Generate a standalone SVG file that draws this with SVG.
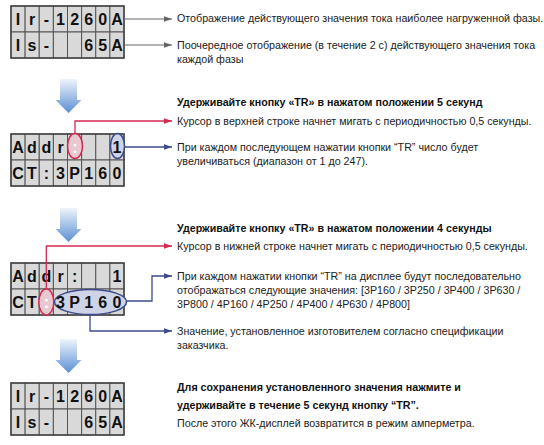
<svg xmlns="http://www.w3.org/2000/svg" width="544" height="445" viewBox="0 0 544 445">
<defs>
<style>
.t{font-family:"Liberation Sans",Arial,sans-serif;font-size:10.7px;fill:#222}
.b{font-family:"Liberation Sans",Arial,sans-serif;font-size:10.7px;font-weight:bold;fill:#111}
.lcd{font-family:"Liberation Sans",Arial,sans-serif;font-size:16px;font-weight:bold;fill:#111;text-anchor:middle}
.cell{fill:#d9d9d9;stroke:#555;stroke-width:1}
.frame{fill:none;stroke:#444;stroke-width:1.5}
.gl{fill:none;stroke:#666;stroke-width:1.2}
.rl{fill:none;stroke:#d42a52;stroke-width:1.3}
.bl{fill:none;stroke:#3d4a8c;stroke-width:1.3}
.re{fill:#e8c9d2;stroke:#d42a52;stroke-width:1.5}
.be{fill:#cfd3e6;stroke:#3d4a8c;stroke-width:1.5}
</style>
<marker id="ag" viewBox="0 0 10 10" refX="10" refY="5" markerWidth="8" markerHeight="8" markerUnits="userSpaceOnUse" orient="auto"><path d="M0,1.5 L10,5 L0,8.5 Z" fill="#666"/></marker>
<marker id="ar" viewBox="0 0 10 10" refX="10" refY="5" markerWidth="8" markerHeight="8" markerUnits="userSpaceOnUse" orient="auto"><path d="M0,1.5 L10,5 L0,8.5 Z" fill="#d42a52"/></marker>
<marker id="ab" viewBox="0 0 10 10" refX="10" refY="5" markerWidth="8" markerHeight="8" markerUnits="userSpaceOnUse" orient="auto"><path d="M0,1.5 L10,5 L0,8.5 Z" fill="#3d4a8c"/></marker>
<linearGradient id="dg" x1="0" y1="0" x2="0" y2="1">
<stop offset="0" stop-color="#eef4fb"/>
<stop offset="1" stop-color="#5b8fd4"/>
</linearGradient>
<g id="row">
<rect class="cell" x="0" y="0" width="14.125" height="26"/>
<rect class="cell" x="14.125" y="0" width="14.125" height="26"/>
<rect class="cell" x="28.25" y="0" width="14.125" height="26"/>
<rect class="cell" x="42.375" y="0" width="14.125" height="26"/>
<rect class="cell" x="56.5" y="0" width="14.125" height="26"/>
<rect class="cell" x="70.625" y="0" width="14.125" height="26"/>
<rect class="cell" x="84.75" y="0" width="14.125" height="26"/>
<rect class="cell" x="98.875" y="0" width="14.125" height="26"/>
</g>
<path id="down" d="M-8.5,0 L8.5,0 L8.5,21 L13,21 L0,34 L-13,21 L-8.5,21 Z" fill="url(#dg)"/>
</defs>
<rect width="544" height="445" fill="#fff"/>

<!-- LCD 1 -->
<g id="lcd1">
<use href="#row" x="11" y="6"/>
<use href="#row" x="11" y="32"/>
<rect class="frame" x="11" y="6" width="113" height="52"/>
<g class="lcd">
<text x="18" y="25">I</text><text x="32" y="25">r</text><text x="46.4" y="25">-</text><text x="60.5" y="25">1</text><text x="74.6" y="25">2</text><text x="88.7" y="25">6</text><text x="102.8" y="25">0</text><text x="117" y="25">A</text>
<text x="18" y="51">I</text><text x="32" y="51">s</text><text x="46.4" y="51">-</text><text x="88.7" y="51">6</text><text x="102.8" y="51">5</text><text x="117" y="51">A</text>
</g>
</g>

<!-- LCD 2 -->
<g id="lcd2">
<use href="#row" x="11" y="134"/>
<use href="#row" x="11" y="160"/>
<rect class="frame" x="11" y="134" width="113" height="52"/>
<ellipse class="re" cx="75" cy="146" rx="7.5" ry="12.5"/>
<ellipse class="be" cx="117.5" cy="146" rx="7" ry="12.5"/>
<g class="lcd">
<text x="18" y="153">A</text><text x="32" y="153">d</text><text x="46.4" y="153">d</text><text x="60.5" y="153">r</text><text x="75" y="153" style="fill:#fff">:</text><text x="117" y="153">1</text>
<text x="18" y="179">C</text><text x="32" y="179">T</text><text x="46.4" y="179">:</text><text x="60.5" y="179">3</text><text x="74.6" y="179">P</text><text x="88.7" y="179">1</text><text x="102.8" y="179">6</text><text x="117" y="179">0</text>
</g>
</g>

<!-- LCD 3 -->
<g id="lcd3">
<use href="#row" x="11" y="263"/>
<use href="#row" x="11" y="289"/>
<rect class="frame" x="11" y="263" width="113" height="52"/>
<ellipse class="re" cx="46.3" cy="302" rx="7.5" ry="13"/>
<ellipse class="be" cx="90.5" cy="302" rx="36" ry="12.5"/>
<g class="lcd">
<text x="18" y="282">A</text><text x="32" y="282">d</text><text x="46.4" y="282">d</text><text x="60.5" y="282">r</text><text x="74.6" y="282">:</text><text x="117" y="282">1</text>
<text x="18" y="308">C</text><text x="32" y="308">T</text><text x="46.4" y="308" style="fill:#fff">:</text><text x="60.5" y="308">3</text><text x="74.6" y="308">P</text><text x="88.7" y="308">1</text><text x="102.8" y="308">6</text><text x="117" y="308">0</text>
</g>
</g>

<!-- LCD 4 -->
<g id="lcd4">
<use href="#row" x="11" y="383"/>
<use href="#row" x="11" y="409"/>
<rect class="frame" x="11" y="383" width="113" height="52"/>
<g class="lcd">
<text x="18" y="402">I</text><text x="32" y="402">r</text><text x="46.4" y="402">-</text><text x="60.5" y="402">1</text><text x="74.6" y="402">2</text><text x="88.7" y="402">6</text><text x="102.8" y="402">0</text><text x="117" y="402">A</text>
<text x="18" y="428">I</text><text x="32" y="428">s</text><text x="46.4" y="428">-</text><text x="88.7" y="428">6</text><text x="102.8" y="428">5</text><text x="117" y="428">A</text>
</g>
</g>

<!-- down arrows -->
<g id="steps">
<use href="#down" x="68.5" y="79"/>
<use href="#down" x="68.5" y="208"/>
<use href="#down" x="68.5" y="339"/>
</g>

<!-- connectors -->
<g id="connectors">
<path class="gl" d="M124,19 H172" marker-end="url(#ag)"/>
<path class="gl" d="M124,45 H172" marker-end="url(#ag)"/>
<path class="rl" d="M75,133.5 V121 H172" marker-end="url(#ar)"/>
<path class="bl" d="M124.5,147 H172" marker-end="url(#ab)"/>
<path class="rl" d="M46.3,289 V246 H172" marker-end="url(#ar)"/>
<path class="bl" d="M126.5,301 H152 V276 H172" marker-end="url(#ab)"/>
<path class="bl" d="M90,314.5 V331 H172" marker-end="url(#ab)"/>
</g>

<!-- texts -->
<g id="texts">
<text class="t" x="177" y="22">Отображение действующего значения тока наиболее нагруженной фазы.</text>
<text class="t" x="177" y="49">Поочередное отображение (в течение 2 с) действующего значения тока</text>
<text class="t" x="177" y="63">каждой фазы</text>
<text class="b" x="177" y="106">Удерживайте кнопку «TR» в нажатом положении 5 секунд</text>
<text class="t" x="177" y="125">Курсор в верхней строке начнет мигать с периодичностью 0,5 секунды.</text>
<text class="t" x="177" y="151">При каждом последующем нажатии кнопки “TR” число будет</text>
<text class="t" x="177" y="165">увеличиваться (диапазон от 1 до 247).</text>
<text class="b" x="177" y="232">Удерживайте кнопку «TR» в нажатом положении 4 секунды</text>
<text class="t" x="177" y="250">Курсор в нижней строке начнет мигать с периодичностью 0,5 секунды.</text>
<text class="t" x="177" y="280">При каждом нажатии кнопки “TR” на дисплее будут последовательно</text>
<text class="t" x="177" y="294">отображаться следующие значения: [3P160 / 3P250 / 3P400 / 3P630 /</text>
<text class="t" x="177" y="308">3P800 / 4P160 / 4P250 / 4P400 / 4P630 / 4P800]</text>
<text class="t" x="177" y="335">Значение, установленное изготовителем согласно спецификации</text>
<text class="t" x="177" y="349">заказчика.</text>
<text class="b" x="177" y="391">Для сохранения установленного значения нажмите и</text>
<text class="b" x="177" y="409">удерживайте в течение 5 секунд кнопку “TR”.</text>
<text class="t" x="177" y="427">После этого ЖК-дисплей возвратится в режим амперметра.</text>
</g>
</svg>
